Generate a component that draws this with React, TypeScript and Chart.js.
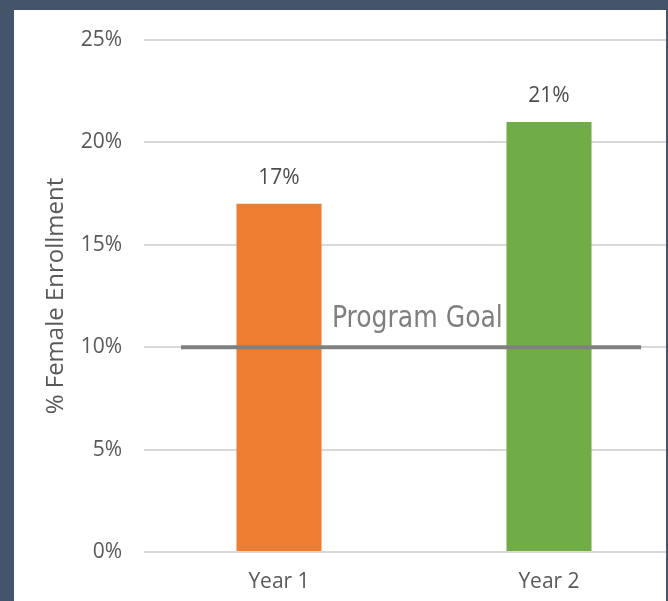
import React, { useEffect, useRef } from "react";
import { Chart, registerables } from "chart.js";

Chart.register(...registerables);

const categories = ["Year 1", "Year 2"];
const enrollment = [17, 21];
const barColors = ["#ED7D31", "#70AD47"];
const yTicks = [0, 5, 10, 15, 20, 25];
const goalValue = 10;
const goalLabel = "Program Goal";
const goalStartIndex = -0.363;
const goalEndIndex = 1.341;
const goalLabelIndex = 0.196;

const FONT = "'Open Sans', 'Noto Sans', sans-serif";
const TEXT = "#595959";

const overlayPlugin = {
  id: "overlay",
  afterDatasetsDraw(chart: any) {
    const ctx = chart.ctx;
    const x = chart.scales.x;
    const y = chart.scales.y;
    const meta = chart.getDatasetMeta(0);
    ctx.save();
    ctx.font = `21px ${FONT}`;
    ctx.fillStyle = "#4D4D4D";
    ctx.textAlign = "center";
    ctx.textBaseline = "alphabetic";
    meta.data.forEach((bar: any, i: number) => {
      ctx.fillText(`${enrollment[i]}%`, bar.x, bar.y - 20);
    });
    const gy = y.getPixelForValue(goalValue);
    ctx.strokeStyle = "#808080";
    ctx.lineWidth = 4;
    ctx.beginPath();
    ctx.moveTo(x.getPixelForValue(goalStartIndex), gy);
    ctx.lineTo(x.getPixelForValue(goalEndIndex), gy);
    ctx.stroke();
    ctx.font = `31px 'DejaVu Sans Condensed', 'DejaVu Sans', sans-serif`;
    ctx.fillStyle = "#7F7F7F";
    ctx.textAlign = "left";
    const lx = x.getPixelForValue(goalLabelIndex);
    ctx.translate(lx, gy - 20);
    ctx.scale(0.9, 1);
    ctx.fillText(goalLabel, 0, 0);
    ctx.restore();
  },
};

export default function App() {
  const ref = useRef<HTMLCanvasElement>(null);
  useEffect(() => {
    document.body.style.margin = "0";
    const chart = new Chart(ref.current!, {
      type: "bar",
      data: {
        labels: categories,
        datasets: [
          {
            data: enrollment,
            backgroundColor: barColors,
            borderWidth: 0,
            barPercentage: 0.315,
            categoryPercentage: 1,
          },
        ],
      },
      options: {
        animation: false,
        responsive: false,
        devicePixelRatio: 1,
        layout: { padding: { top: 30, right: 30, left: 0, bottom: 0 } },
        plugins: { legend: { display: false }, tooltip: { enabled: false } },
        scales: {
          x: {
            grid: { display: false, drawTicks: false },
            border: { display: false },
            ticks: { color: TEXT, font: { family: FONT, size: 21 }, padding: 17 },
            afterFit: (s: any) => {
              s.height = 49;
            },
          },
          y: {
            min: 0,
            max: 25,
            afterBuildTicks: (s: any) => {
              s.ticks = yTicks.map((v) => ({ value: v }));
            },
            grid: { color: "#D9D9D9", lineWidth: 2, drawTicks: false },
            border: { display: false },
            ticks: {
              color: TEXT,
              font: { family: FONT, size: 21 },
              padding: 22,
              callback: (v: any) => `${v}%`,
            },
            title: {
              display: true,
              text: "% Female Enrollment",
              color: TEXT,
              font: { family: FONT, size: 24 },
              padding: { top: 28, bottom: 0 },
            },
            afterFit: (s: any) => {
              s.width = 130;
              s.paddingTop = 0;
              s.paddingBottom = 0;
            },
          },
        },
      },
      plugins: [overlayPlugin],
    });
    return () => chart.destroy();
  }, []);

  return (
    <div
      style={{
        position: "fixed",
        left: 0,
        top: 0,
        width: 668,
        height: 601,
        background: "#44546A",
        overflow: "hidden",
      }}
    >
      <div
        style={{
          position: "absolute",
          left: 14,
          top: 10,
          width: 652,
          height: 591,
          background: "#FFFFFF",
          overflow: "hidden",
        }}
      >
        <canvas ref={ref} width={700} height={591} style={{ display: "block" }} />
      </div>
    </div>
  );
}
